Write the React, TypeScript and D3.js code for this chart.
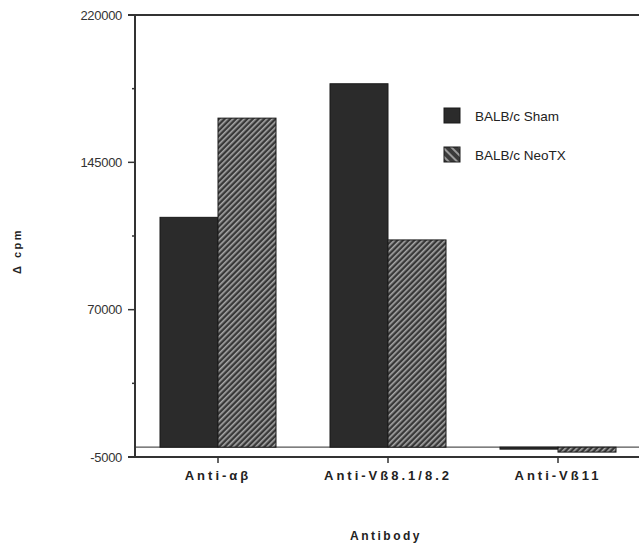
import React from "react";
import * as d3 from "d3";

const categories = ["Anti-αβ", "Anti-Vß8.1/8.2", "Anti-Vß11"];
const seriesNames = ["BALB/c Sham", "BALB/c NeoTX"];
const shamValues = [117000, 185000, -1000];
const neoValues = [167500, 105500, -2500];
const yTickValues = [-5000, 70000, 145000, 220000];
const yMinorTicks = [32500, 107500, 182500];
const yTitle = "Δ cpm";
const xTitle = "Antibody";

const W = 639;
const H = 546;
const FONT = "'Liberation Sans', Arial, Helvetica, sans-serif";

export default function App() {
  const y = d3.scaleLinear().domain([-5000, 220000]).range([457, 15]);
  const x0 = d3
    .scaleBand<string>()
    .domain(categories)
    .range([133, 643])
    .paddingInner(0.3176)
    .paddingOuter(0.1588);
  const x1 = d3
    .scaleBand<string>()
    .domain(seriesNames)
    .range([0, x0.bandwidth()]);
  const seriesVals = [shamValues, neoValues];
  const fills = ["#2b2b2b", "url(#hatchBar)"];
  const axisX = 135;
  const right = 639;

  return (
    <svg
      width={W}
      height={H}
      style={{ position: "absolute", left: 0, top: 0, background: "#fff" }}
    >
      <defs>
        <pattern
          id="hatchBar"
          patternUnits="userSpaceOnUse"
          width={4}
          height={4}
          patternTransform="rotate(-45)"
        >
          <rect width={4} height={4} fill="#383838" />
          <rect width={4} height={1.6} fill="#a8a8a8" />
        </pattern>
        <pattern
          id="hatchLegend"
          patternUnits="userSpaceOnUse"
          width={6}
          height={6}
          patternTransform="rotate(45)"
        >
          <rect width={6} height={6} fill="#3a3a3a" />
          <rect width={6} height={2} fill="#9a9a9a" />
        </pattern>
      </defs>

      {/* zero line */}
      <line x1={axisX} x2={right} y1={y(0)} y2={y(0)} stroke="#555" strokeWidth={1.2} />

      {/* bars */}
      {categories.map((c, ci) =>
        seriesNames.map((s, si) => {
          const v = seriesVals[si][ci];
          const top = Math.min(y(v), y(0));
          const h = Math.abs(y(v) - y(0));
          return (
            <rect
              key={c + s}
              x={(x0(c) as number) + (x1(s) as number)}
              y={top}
              width={x1.bandwidth()}
              height={Math.max(h, 1)}
              fill={fills[si]}
              stroke="#1a1a1a"
              strokeWidth={1}
            />
          );
        })
      )}

      {/* top frame line */}
      <line x1={128} x2={right} y1={y(220000)} y2={y(220000)} stroke="#333" strokeWidth={2} />
      {/* bottom axis */}
      <line x1={128} x2={right} y1={y(-5000)} y2={y(-5000)} stroke="#333" strokeWidth={2} />
      {/* y axis */}
      <line x1={axisX} x2={axisX} y1={y(220000)} y2={y(-5000)} stroke="#333" strokeWidth={2} />

      {/* y ticks */}
      {yTickValues.map((t) => (
        <g key={t}>
          <line x1={128} x2={axisX} y1={y(t)} y2={y(t)} stroke="#333" strokeWidth={1.5} />
          <text
            x={122}
            y={y(t)}
            dy="0.35em"
            textAnchor="end"
            fontFamily={FONT}
            fontSize={13}
            fill="#333"
            letterSpacing={-0.3}
          >
            {t}
          </text>
        </g>
      ))}
      {yMinorTicks.map((t) => (
        <line key={t} x1={132} x2={axisX} y1={y(t)} y2={y(t)} stroke="#333" strokeWidth={1.5} />
      ))}

      {/* x ticks and labels */}
      {categories.map((c) => {
        const cx = (x0(c) as number) + x0.bandwidth() / 2;
        return (
          <g key={c}>
            <line x1={cx} x2={cx} y1={y(-5000)} y2={y(-5000) + 6} stroke="#333" strokeWidth={1.5} />
            <text
              x={cx}
              y={480}
              textAnchor="middle"
              fontFamily={FONT}
              fontWeight="bold"
              fontSize={13}
              letterSpacing={3}
              fill="#222"
            >
              {c}
            </text>
          </g>
        );
      })}

      {/* axis titles */}
      <text
        x={386}
        y={540}
        textAnchor="middle"
        fontFamily={FONT}
        fontWeight="bold"
        fontSize={12}
        letterSpacing={2.5}
        fill="#222"
      >
        {xTitle}
      </text>
      <text
        transform="translate(21,251) rotate(-90)"
        textAnchor="middle"
        fontFamily={FONT}
        fontWeight="bold"
        fontSize={11}
        letterSpacing={2.5}
        fill="#222"
      >
        {yTitle}
      </text>

      {/* legend */}
      {seriesNames.map((s, i) => (
        <g key={s} transform={`translate(444, ${108 + i * 39})`}>
          <rect
            width={16}
            height={15}
            fill={i === 0 ? "#2b2b2b" : "url(#hatchLegend)"}
            stroke="#1a1a1a"
            strokeWidth={1}
          />
          <text
            x={31}
            y={8}
            dy="0.35em"
            fontFamily={FONT}
            fontSize={13.5}
            fill="#222"
          >
            {s}
          </text>
        </g>
      ))}
    </svg>
  );
}
